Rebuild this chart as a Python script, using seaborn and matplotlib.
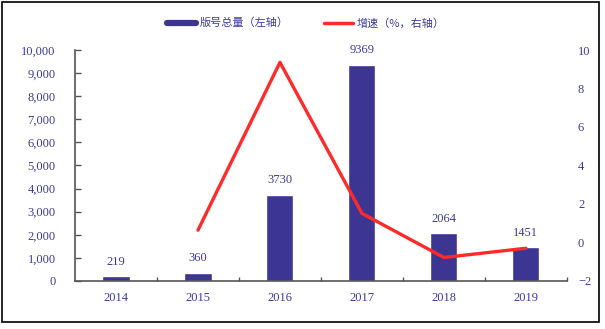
import numpy as np
import pandas as pd
import matplotlib
matplotlib.use("Agg")
import matplotlib.pyplot as plt
from matplotlib.lines import Line2D
from matplotlib.patches import Rectangle
import seaborn as sns

# Data
years = ["2014", "2015", "2016", "2017", "2018", "2019"]
totals = [219, 360, 3730, 9369, 2064, 1451]
growth_years = ["2015", "2016", "2017", "2018", "2019"]
growth = [0.64, 9.36, 1.51, -0.78, -0.30]
left_ticks = [0, 1000, 2000, 3000, 4000, 5000, 6000, 7000, 8000, 9000, 10000]
right_ticks = [-2, 0, 2, 4, 6, 8, 10]
legend_labels = ["版号总量（左轴）", "增速（%，右轴）"]

BAR = "#3d3592"
RED = "#ff2a2a"
TXT = "#3b3b9c"
SERIF = ["Liberation Serif", "DejaVu Serif"]
CJK = ["Noto Sans CJK SC", "DejaVu Sans"]

sns.set_theme(style="white")
plt.rcParams["font.family"] = SERIF

fig = plt.figure(figsize=(6.05, 3.29), dpi=100)
ax = fig.add_axes([0.124, 0.146, 0.813, 0.702])

df = pd.DataFrame({"year": years, "total": totals})
sns.barplot(data=df, x="year", y="total", color=BAR, saturation=1,
            width=0.33, ax=ax, order=years)
ax.bar_label(ax.containers[0], labels=[str(v) for v in totals],
             padding=6, color=TXT, fontsize=9)

ax.set_xlim(-0.5, len(years) - 0.5)
ax.set_ylim(0, 10000)
ax.set_yticks(left_ticks)
ax.set_yticklabels([f"{v:,}" for v in left_ticks])
ax.set_xlabel("")
ax.set_ylabel("")
ax.tick_params(axis="y", direction="in", length=4, width=1, color="#555555",
               labelcolor=TXT, labelsize=9, pad=14, left=True)
ax.tick_params(axis="x", which="major", length=0, labelcolor=TXT,
               labelsize=9, pad=8)
ax.set_xticks(np.arange(len(years)) + 0.5, minor=True)
ax.tick_params(axis="x", which="minor", direction="in", length=3,
               width=1, color="#555555", bottom=True)
for s in ["top", "right"]:
    ax.spines[s].set_visible(False)
for s in ["left", "bottom"]:
    ax.spines[s].set_color("#555555")
    ax.spines[s].set_linewidth(1.2)

# Growth line on the right axis
ax2 = ax.twinx()
gx = [years.index(y) for y in growth_years]
gdf = pd.DataFrame({"x": gx, "growth": growth})
sns.lineplot(data=gdf, x="x", y="growth", color=RED, linewidth=2.4, ax=ax2)
ax2.set_ylim(-2, 10)
ax2.set_yticks(right_ticks)
ax2.set_yticklabels([str(v).replace("-", "−") for v in right_ticks])
ax2.set_xlabel("")
ax2.set_ylabel("")
ax2.tick_params(axis="y", length=0, labelcolor=TXT, labelsize=9, pad=8)
for s in ax2.spines.values():
    s.set_visible(False)
ax2.set_xlim(-0.5, len(years) - 0.5)

handles = [Line2D([], [], color=BAR, lw=4.5), Line2D([], [], color=RED, lw=2.5)]
fig.legend(handles, legend_labels, loc="center", bbox_to_anchor=(0.505, 0.93),
           ncol=2, frameon=False, handlelength=2.6, handletextpad=0.3,
           columnspacing=3.2, prop={"family": CJK, "size": 8},
           labelcolor=TXT)

# Outer frame
fig.patches.append(Rectangle((2 / 605, 1 - 322 / 329), 597 / 605, 320 / 329,
                             transform=fig.transFigure, fill=False,
                             edgecolor="black", linewidth=1.2))

fig.savefig("out.png", dpi=100)
